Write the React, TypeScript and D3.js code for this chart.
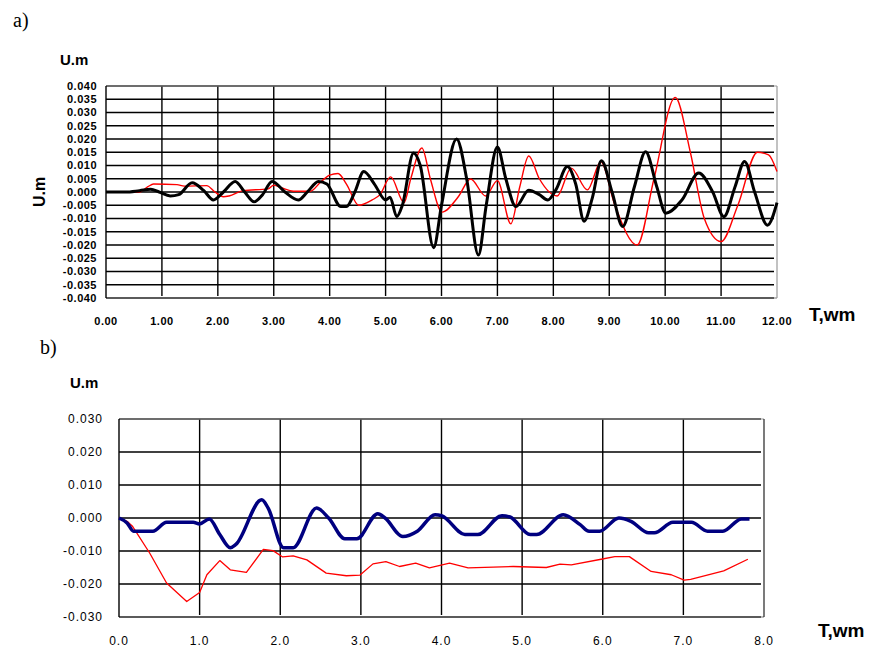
import React from 'react';
import * as d3 from 'd3';

// (time, displacement) points
const topBlack: [number, number][] = [
  [0, 0], [0.35, 0], [0.6, 0.0005], [0.8, 0.001], [0.95, 0], [1.15, -0.0015], [1.3, -0.001],
  [1.54, 0.0035], [1.75, 0.0005], [1.92, -0.003], [2.1, 0], [2.31, 0.004], [2.48, 0],
  [2.65, -0.0037], [2.8, -0.001], [2.97, 0.004], [3.2, 0], [3.44, -0.003], [3.6, 0],
  [3.8, 0.004], [3.95, 0.003], [4.2, -0.0055], [4.3, -0.0055], [4.45, 0], [4.61, 0.0077],
  [4.8, 0.003], [5.0, -0.003], [5.08, -0.002], [5.2, -0.0093], [5.3, -0.005], [5.5, 0.0147],
  [5.62, 0.01], [5.86, -0.021], [6.0, -0.005], [6.27, 0.02], [6.45, 0.005], [6.66, -0.0238],
  [6.8, -0.005], [7.0, 0.017], [7.15, 0.005], [7.33, -0.0055], [7.56, 0.0007], [7.75, -0.001],
  [7.9, -0.003], [8.05, 0.001], [8.25, 0.0096], [8.4, 0.003], [8.55, -0.011], [8.7, -0.002],
  [8.86, 0.0118], [9.05, 0], [9.24, -0.013], [9.45, 0.002], [9.65, 0.0152], [9.85, 0.002],
  [10.01, -0.008], [10.3, -0.003], [10.6, 0.0072], [10.85, 0], [11.05, -0.0093], [11.25, 0.002],
  [11.42, 0.0115], [11.6, 0], [11.83, -0.0125], [12, -0.004],
];

const topRed: [number, number][] = [
  [0, 0], [0.6, 0], [0.75, 0.002], [0.85, 0.003], [1.27, 0.0028], [1.4, 0.0022], [1.8, 0.0024],
  [1.95, 0], [2.1, -0.0018], [2.2, -0.0015], [2.45, 0.0005], [2.9, 0.0012], [3.0, 0.0026],
  [3.15, 0.0015], [3.35, 0.0003], [3.65, 0.0003], [3.85, 0.004], [4.0, 0.0064], [4.15, 0.007],
  [4.3, 0.003], [4.52, -0.005], [4.76, -0.003], [4.9, -0.001], [5.09, 0.0057], [5.33, -0.004],
  [5.45, 0.005], [5.65, 0.0166], [5.8, 0.005], [6.01, -0.0076], [6.3, -0.0018], [6.52, 0.0049],
  [6.79, -0.0015], [7.0, 0.0043], [7.24, -0.012], [7.4, 0.002], [7.56, 0.0136], [7.75, 0.005],
  [8.07, -0.0015], [8.32, 0.009], [8.61, 0.0008], [8.85, 0.0114], [9.1, -0.005], [9.5, -0.02],
  [9.8, 0.005], [10.18, 0.0357], [10.45, 0.015], [10.7, -0.01], [11.0, -0.0187], [11.3, -0.005],
  [11.65, 0.015], [11.85, 0.014], [12, 0.0077],
];

const bottomBlue: [number, number][] = [
  [0, 0], [0.1, -0.0015], [0.18, -0.004], [0.42, -0.004], [0.59, -0.0013], [0.92, -0.0013],
  [1.0, -0.0018], [1.12, -0.0003], [1.25, -0.005], [1.38, -0.009], [1.45, -0.008], [1.77, 0.0055],
  [1.85, 0.003], [2.04, -0.009], [2.16, -0.009], [2.45, 0.003], [2.6, 0], [2.8, -0.0063],
  [2.95, -0.0063], [3.21, 0.0013], [3.3, 0], [3.52, -0.0056], [3.7, -0.004], [3.92, 0.001],
  [4.0, 0.0007], [4.29, -0.005], [4.45, -0.005], [4.75, 0.0007], [4.85, 0.0003], [5.1, -0.005],
  [5.18, -0.005], [5.51, 0.001], [5.72, -0.002], [5.83, -0.004], [5.96, -0.004], [6.2, 0],
  [6.35, -0.001], [6.57, -0.0045], [6.64, -0.0045], [6.87, -0.0013], [7.1, -0.0013], [7.3, -0.004],
  [7.49, -0.004], [7.72, -0.0003], [7.82, -0.0003],
];

const bottomRed: [number, number][] = [
  [0, 0], [0.1, -0.001], [0.17, -0.0026], [0.38, -0.0106], [0.59, -0.0197], [0.84, -0.0253],
  [1.0, -0.0226], [1.09, -0.0172], [1.25, -0.0129], [1.38, -0.0157], [1.58, -0.0165],
  [1.79, -0.0095], [1.91, -0.0099], [2.03, -0.0118], [2.16, -0.0115], [2.33, -0.0127],
  [2.57, -0.0167], [2.82, -0.0175], [2.99, -0.0173], [3.15, -0.0139], [3.31, -0.0132],
  [3.48, -0.0147], [3.68, -0.0137], [3.85, -0.0151], [4.1, -0.0137], [4.33, -0.0151],
  [4.89, -0.0147], [5.3, -0.015], [5.47, -0.014], [5.61, -0.0142], [5.98, -0.0125],
  [6.15, -0.0117], [6.33, -0.0117], [6.6, -0.0162], [6.85, -0.0172], [7.01, -0.0188],
  [7.09, -0.0186], [7.5, -0.016], [7.8, -0.0125],
];

const topXTicks = d3.range(0, 13, 1);
const topYTicks = d3.range(-8, 9).map(i => i * 0.005);
const bottomXTicks = d3.range(0, 9, 1);
const bottomYTicks = d3.range(-3, 4).map(i => i * 0.01);

const fmt = (spec: string) => (v: number) => d3.format(spec)(v).replace('\u2212', '-');

interface Series {
  points: [number, number][];
  color: string;
  width: number;
  curve: d3.CurveFactory;
}

interface PanelProps {
  left: number; top: number; right: number; bottom: number;
  xDomain: [number, number]; yDomain: [number, number];
  xTicks: number[]; yTicks: number[];
  xFormat: (v: number) => string; yFormat: (v: number) => string;
  series: Series[];
  labelFont: React.CSSProperties;
  yLabelGap: number; xLabelY: number; spacing: number;
  frameRight: string;
}

const Panel = (p: PanelProps) => {
  const x = d3.scaleLinear().domain(p.xDomain).range([p.left, p.right]);
  const y = d3.scaleLinear().domain(p.yDomain).range([p.bottom, p.top]);
  const line = (s: Series) => d3.line<[number, number]>()
    .x(d => x(d[0]))
    .y(d => y(d[1]))
    .curve(s.curve)(s.points) || '';

  return (
    <g>
      {p.yTicks.map((t, i) => (
        <line key={'h' + i} x1={p.left} x2={p.right - 3} y1={y(t)} y2={y(t)} stroke="#000" strokeWidth={1.4} />
      ))}
      {p.xTicks.slice(1, -1).map((t, i) => (
        <line key={'v' + i} x1={x(t)} x2={x(t)} y1={p.top} y2={p.bottom - 2} stroke="#000" strokeWidth={1.4} />
      ))}
      <line x1={p.left} x2={p.right} y1={p.top} y2={p.top} stroke="#999" strokeWidth={1.2} />
      <line x1={p.left} x2={p.right} y1={p.bottom} y2={p.bottom} stroke="#777" strokeWidth={1.2} />
      <line x1={p.right} x2={p.right} y1={p.top} y2={p.bottom} stroke={p.frameRight} strokeWidth={1.2} />
      <line x1={p.left} x2={p.left} y1={p.top} y2={p.bottom} stroke="#000" strokeWidth={1.4} />
      {p.series.map((s, i) => (
        <path key={'s' + i} d={line(s)} fill="none" stroke={s.color} strokeWidth={s.width} strokeLinejoin="round" />
      ))}
      {p.yTicks.map((t, i) => (
        <text key={'yl' + i} x={p.left - p.yLabelGap} y={y(t)} dy="0.35em" textAnchor="end"
          letterSpacing={p.spacing} style={p.labelFont}>{p.yFormat(t)}</text>
      ))}
      {p.xTicks.map((t, i) => (
        <text key={'xl' + i} x={x(t)} y={p.xLabelY} dy="0.35em" textAnchor="middle"
          letterSpacing={p.spacing} style={p.labelFont}>{p.xFormat(t)}</text>
      ))}
    </g>
  );
};

const sans = '"Liberation Sans", Arial, sans-serif';
const serif = '"Liberation Serif", "Times New Roman", serif';

export default function App() {
  return (
    <svg width={871} height={650} style={{ position: 'absolute', left: 0, top: 0, background: '#fff' }}>
      <text x={13} y={27} style={{ fontFamily: serif, fontSize: 20 }}>a)</text>
      <text x={60} y={65} style={{ fontFamily: sans, fontSize: 15, fontWeight: 'bold' }}>U.m</text>
      <text transform="translate(45,192) rotate(-90)" textAnchor="middle"
        style={{ fontFamily: sans, fontSize: 16, fontWeight: 'bold' }}>U.m</text>
      <text x={809} y={321} style={{ fontFamily: sans, fontSize: 19, fontWeight: 'bold' }}>T,wm</text>
      <Panel
        left={106} top={86} right={777} bottom={298}
        xDomain={[0, 12]} yDomain={[-0.04, 0.04]}
        xTicks={topXTicks} yTicks={topYTicks}
        xFormat={fmt('.2f')} yFormat={fmt('.3f')}
        series={[
          { points: topRed, color: '#ff0000', width: 1.4, curve: d3.curveMonotoneX },
          { points: topBlack, color: '#000', width: 3, curve: d3.curveMonotoneX },
        ]}
        labelFont={{ fontFamily: sans, fontSize: 11, fontWeight: 'bold' }}
        yLabelGap={9} xLabelY={321} spacing={0.5}
        frameRight="#999"
      />

      <text x={40} y={354} style={{ fontFamily: serif, fontSize: 20 }}>b)</text>
      <text x={70} y={388} style={{ fontFamily: sans, fontSize: 15, fontWeight: 'bold' }}>U.m</text>
      <text x={818} y={637} style={{ fontFamily: sans, fontSize: 19, fontWeight: 'bold' }}>T,wm</text>
      <Panel
        left={119} top={419} right={764} bottom={617}
        xDomain={[0, 8]} yDomain={[-0.03, 0.03]}
        xTicks={bottomXTicks} yTicks={bottomYTicks}
        xFormat={fmt('.1f')} yFormat={fmt('.3f')}
        series={[
          { points: bottomRed, color: '#ff0000', width: 1.3, curve: d3.curveLinear },
          { points: bottomBlue, color: '#000080', width: 3.5, curve: d3.curveMonotoneX },
        ]}
        labelFont={{ fontFamily: sans, fontSize: 12 }}
        yLabelGap={16} xLabelY={641} spacing={1}
        frameRight="#222"
      />
    </svg>
  );
}
